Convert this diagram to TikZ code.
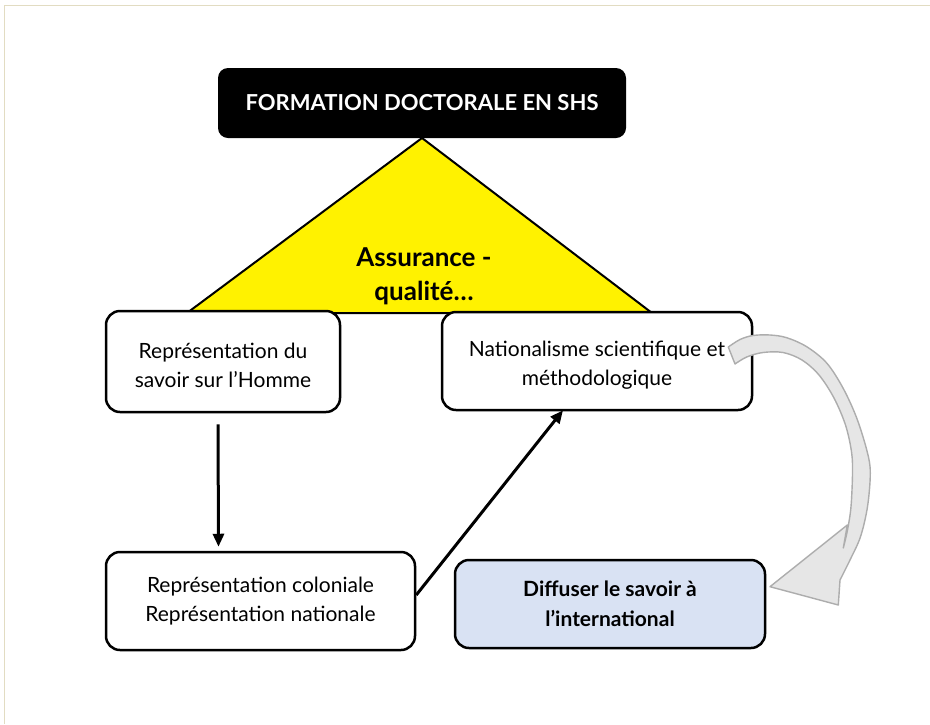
\documentclass[tikz,border=0pt]{standalone}
\usepackage{fontspec}
\setmainfont{Lato}
\usetikzlibrary{arrows.meta}
\definecolor{framec}{HTML}{E2DCC2}
\definecolor{paleblue}{HTML}{D9E2F3}
\definecolor{arrfill}{HTML}{E6E6E6}
\definecolor{arredge}{HTML}{ADADAD}
\tikzset{
  box/.style={draw=black, line width=2.5pt, rounded corners=14pt, fill=white, align=center, inner sep=0pt, font=\fontsize{21}{29}\selectfont},
  boxtext/.style={align=center, inner sep=0pt, font=\fontsize{21}{29}\selectfont},
  conn/.style={draw=black, line width=3pt, -{Triangle[length=13pt,width=11pt]}},
}
\begin{document}
\begin{tikzpicture}[x=1pt,y=-1pt]
\useasboundingbox (0,0) rectangle (930,724);
\fill[white] (0,0) rectangle (930,724);
% frame
\draw[framec, line width=1.5pt] (4.5,724) -- (4.5,5.5) -- (930,5.5);
% triangle
\filldraw[fill=yellow, draw=black, line width=2pt, line join=miter] (187,313) -- (422,138) -- (652,313) -- cycle;
\node[align=center, font=\fontsize{26}{34}\selectfont\bfseries] (aq) at (424,276) {Assurance -\\qualité…};
% title
\node[fill=black, rounded corners=10pt, minimum width=408pt, minimum height=70pt, inner sep=0pt, text=white, font=\fontsize{22}{26}\selectfont\bfseries] (top) at (422,103) {FORMATION DOCTORALE EN SHS};
% boxes
\node[box, minimum width=234pt, minimum height=101pt] (b1) at (223,361.5) {};
\node[boxtext] (t1) at ([yshift=-4pt]b1.center) {Représentation du\\savoir sur l’Homme};
\node[box, minimum width=310pt, minimum height=98pt] (b2) at (597,361) {};
\node[boxtext] (t2) at ([yshift=-4pt]b2.center) {Nationalisme scientifique et\\méthodologique};
\node[box, minimum width=309pt, minimum height=98pt] (b3) at (260.5,601) {Représentation coloniale\\Représentation nationale};
\node[box, fill=paleblue, minimum width=310pt, minimum height=88pt, font=\fontsize{21}{30}\selectfont\bfseries] (b4) at (610,604) {Diffuser le savoir à\\l’international};
% connectors
\draw[conn] ([xshift=-5pt,yshift=-11pt]b1.south) -- ([xshift=-42pt,yshift=4pt]b3.north);
\draw[conn] ([yshift=6pt]b3.east) -- ([xshift=-34pt,yshift=1pt]b2.south);
% curved grey arrow
\filldraw[fill=arrfill, draw=arredge, line width=1.4pt, line join=round]
  plot[smooth, tension=0.55] coordinates {(728.3,347) (740,339.5) (753,335.5) (770,335) (786.7,337.7) (806.7,346.7) (826.7,363) (843,388) (856.7,418) (867.2,451.7) (870.3,473) (867.5,506.7) (860.5,536.7) (850,560) (840,580)}
  -- (838.3,605) -- (770,586.7) -- (847.3,525) --
  plot[smooth, tension=0.55] coordinates {(843.3,548) (847.5,530) (851,506.7) (852.5,473) (851.5,451.7) (845.5,425) (834,398) (819,375) (802,360) (783,352.5) (763,352.5) (746.7,357) (735,364)}
  -- cycle;
\end{tikzpicture}
\end{document}
